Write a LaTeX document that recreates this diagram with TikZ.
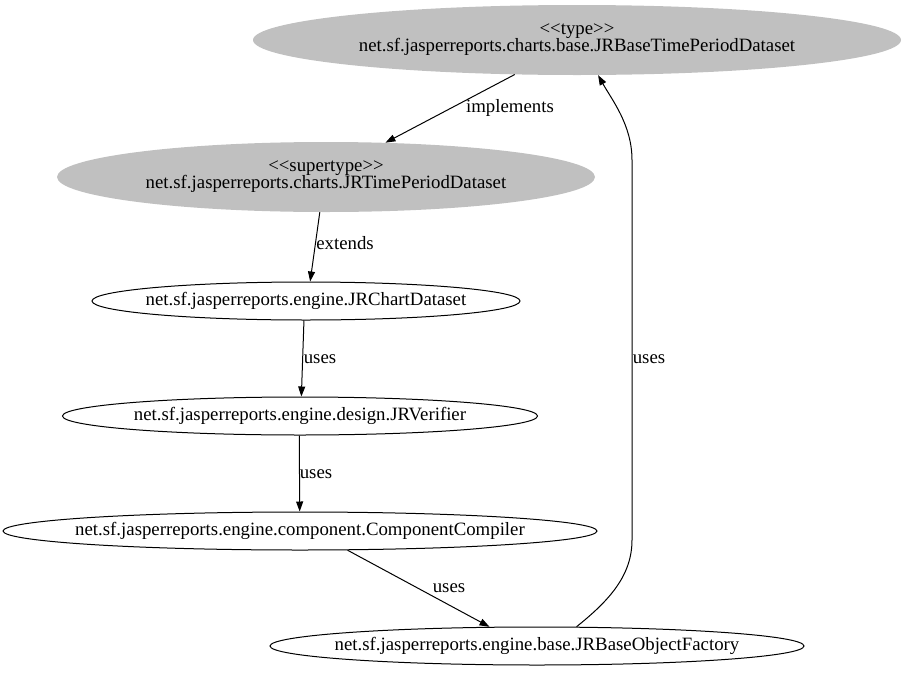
\documentclass[tikz,border=0pt]{standalone}
\usepackage{fontspec}
\setmainfont{Liberation Serif}[Ligatures=TeXOff]
\usetikzlibrary{shapes.geometric,arrows.meta}
\definecolor{nodegray}{HTML}{C0C0C0}
\newcommand\tightlines{\lineskiplimit=-100pt\relax}
\newcommand\clsname[1]{\makebox[0pt]{#1}}

\begin{document}
\begin{tikzpicture}[x=1pt,y=-1pt,
  font=\fontsize{18.8}{17}\selectfont\tightlines,
  cls/.style={ellipse,draw,line width=1pt,inner sep=0pt,minimum height=38pt},
  supercls/.style={ellipse,fill=nodegray,inner sep=0pt,align=center,minimum height=70pt},
  dep/.style={-{Triangle[length=10pt,width=7pt]},line width=1pt},
  lbl/.style={inner sep=0pt}
]
\useasboundingbox (0,0) rectangle (903,675);

% Type and supertype
\node[supercls,minimum width=648pt] (type) at (577,40)
  {<<type>>\\net.sf.jasperreports.charts.base.JRBaseTimePeriodDataset};
\node[supercls,minimum width=538pt] (super) at (326,177)
  {<<supertype>>\\net.sf.jasperreports.charts.JRTimePeriodDataset};

% Classes
\node[cls,minimum width=428pt] (chartds) at (306,301) {\clsname{net.sf.jasperreports.engine.JRChartDataset}};
\node[cls,minimum width=475pt] (verifier) at (300,416) {\clsname{net.sf.jasperreports.engine.design.JRVerifier}};
\node[cls,minimum width=594pt] (compiler) at (300,531) {\clsname{net.sf.jasperreports.engine.component.ComponentCompiler}};
\node[cls,minimum width=534pt] (factory) at (537,646) {\clsname{net.sf.jasperreports.engine.base.JRBaseObjectFactory}};

% Dependencies
\draw[dep] (type.209) -- (super.30);
\draw[dep] (super.260) -- (chartds.78);
\draw[dep] (chartds.264) -- (verifier.86);
\draw[dep] (verifier.268) -- (compiler.91);
\draw[dep] (compiler.338) -- (factory.158);
\draw[dep] (factory.26) .. controls (610,600) and (632,575) .. (632,540)
  -- (632,160) .. controls (632,125) and (612,100) .. (type.301);

% Labels
\node[lbl] (limpl) at (510,108) {implements};
\node[lbl] (lext) at (345,243) {extends};
\node[lbl] (luses1) at (320,359) {uses};
\node[lbl] (luses2) at (316,474) {uses};
\node[lbl] (luses3) at (449,588) {uses};
\node[lbl] (luses4) at (649,359) {uses};

\end{tikzpicture}
\end{document}
